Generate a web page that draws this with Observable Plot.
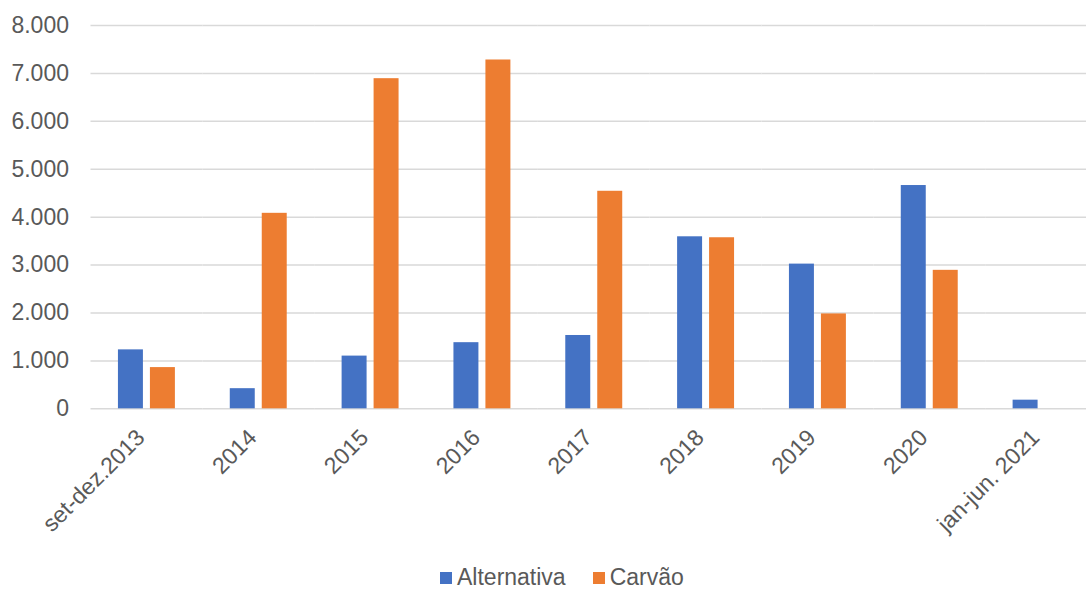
<!DOCTYPE html>
<html>
<head>
<meta charset="utf-8">
<script src="https://cdn.jsdelivr.net/npm/d3@7"></script>
<script src="https://cdn.jsdelivr.net/npm/@observablehq/plot@0.6"></script>
<style>
  html, body { margin: 0; padding: 0; background: #fff; overflow: hidden; }
  #chart svg { max-width: none; display: block; }
  .legend {
    position: absolute; top: 564px; left: 440px;
    display: flex; align-items: center;
    font-family: "Liberation Sans", Arial, sans-serif; font-size: 23px; color: #595959;
  }
  .legend .item { display: flex; align-items: center; margin-right: 27px; }
  .legend .sw { width: 12px; height: 12px; margin-right: 5px; }
</style>
</head>
<body>
<div id="chart"></div>
<div class="legend" id="legend"></div>
<script>
// Periods on the category axis
const periods = ["set-dez.2013", "2014", "2015", "2016", "2017", "2018", "2019", "2020", "jan-jun. 2021"];
// Series names and colours
const seriesNames = ["Alternativa", "Carvão"];
const seriesColors = ["#4472C4", "#ED7D31"];
// Values per period
const alternativa = [1230, 420, 1100, 1380, 1530, 3590, 3020, 4660, 180];
const carvao = [860, 4080, 6890, 7280, 4540, 3570, 1980, 2890, 0];
// Value axis ticks
const yTicks = [0, 1000, 2000, 3000, 4000, 5000, 6000, 7000, 8000];

const ptBR = d3.formatLocale({decimal: ",", thousands: ".", grouping: [3], currency: ["R$", ""]});
const fmt = ptBR.format(",d");

const rows = [];
periods.forEach((p, i) => {
  rows.push({period: p, series: seriesNames[0], value: alternativa[i]});
  if (carvao[i] > 0) rows.push({period: p, series: seriesNames[1], value: carvao[i]});
});

const font = "'Liberation Sans', Arial, sans-serif";

const chart = Plot.plot({
  width: 1097,
  height: 550,
  marginLeft: 90.5,
  marginRight: 0,
  marginTop: 25,
  marginBottom: 141.7,
  style: {fontFamily: font, fontSize: "23px", color: "#595959", background: "#fff", overflow: "visible"},
  fx: {domain: periods, paddingInner: 0, paddingOuter: 0, round: false, label: null},
  x: {domain: seriesNames, paddingInner: 0.219, paddingOuter: 0.858, round: false, axis: null},
  y: {domain: [0, 8000], label: null},
  color: {domain: seriesNames, range: seriesColors},
  marks: [
    Plot.gridY(yTicks, {stroke: "#d9d9d9", strokeOpacity: 1, strokeWidth: 1.5}),
    Plot.barY(rows, {fx: "period", x: "series", y: "value", fill: "series"}),
    Plot.axisY(yTicks, {tickSize: 0, tickPadding: 22, tickFormat: fmt, fontSize: 23}),
    Plot.axisFx({anchor: "bottom", tickSize: 0, tickRotate: -45, tickPadding: 25, dx: -6, fontSize: 23, label: null})
  ]
});
document.getElementById("chart").append(chart);

// Legend below the chart
const legend = document.getElementById("legend");
seriesNames.forEach((name, i) => {
  const item = document.createElement("div");
  item.className = "item";
  const sw = document.createElement("div");
  sw.className = "sw";
  sw.style.background = seriesColors[i];
  const label = document.createElement("span");
  label.textContent = name;
  item.append(sw, label);
  legend.append(item);
});
</script>
</body>
</html>
